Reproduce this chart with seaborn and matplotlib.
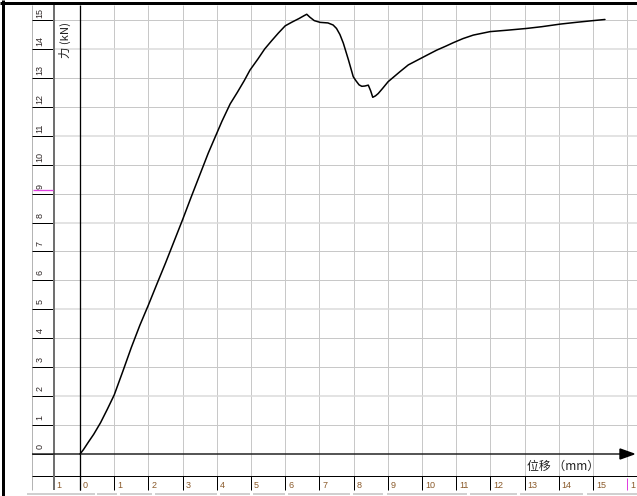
import matplotlib
matplotlib.use('Agg')
import matplotlib.pyplot as plt
from matplotlib.patches import Polygon
import seaborn as sns
import numpy as np
import pandas as pd

# curve: displacement (mm) vs force (kN)
disp = [0, 0.1, 0.25, 0.4, 0.6, 0.8, 1.0, 1.25, 1.5, 1.75, 2.0, 2.25, 2.5,
        2.75, 3.0, 3.25, 3.5, 3.75, 3.95, 4.15, 4.39, 4.6, 4.8, 4.97, 5.2,
        5.4, 5.6, 5.8, 6.0, 6.2, 6.4, 6.55, 6.63, 6.72, 6.85, 7.02, 7.25,
        7.4, 7.5, 7.6, 7.7, 7.85, 7.99, 8.07, 8.16, 8.24, 8.33, 8.43, 8.5,
        8.56, 8.64, 8.72, 8.85, 9.01, 9.2, 9.36, 9.6, 9.94, 10.2, 10.43,
        10.7, 10.92, 11.2, 11.5, 11.99, 12.5, 13.06, 13.5, 14.04, 14.5,
        15.0, 15.35]
force = [0, 0.15, 0.42, 0.68, 1.08, 1.55, 2.04, 2.85, 3.68, 4.45, 5.15, 5.88, 6.6,
         7.35, 8.1, 8.88, 9.64, 10.4, 10.95, 11.5, 12.1, 12.5, 12.9, 13.27, 13.65,
         14.0, 14.28, 14.55, 14.8, 14.93, 15.05, 15.15, 15.2, 15.1, 14.98, 14.92, 14.9,
         14.83, 14.71, 14.5, 14.2, 13.62, 13.04, 12.9, 12.76, 12.71, 12.72, 12.75, 12.55,
         12.33, 12.38, 12.46, 12.64, 12.87, 13.06, 13.22, 13.45, 13.66, 13.82, 13.96,
         14.1, 14.22, 14.36, 14.48, 14.6, 14.65, 14.71, 14.77, 14.86, 14.92,
         14.98, 15.02]

x_ticks = list(range(0, 17))
y_ticks = list(range(0, 16))
x_tick_labels = [str(v) for v in x_ticks[:-1]] + ['1']
y_tick_labels = [str(v) for v in y_ticks]
x_title = '位移 （mm）'
y_title = '力 (kN)'

# screen geometry of the original window (pixels)
W, H = 637, 496
PX_MM, PX_KN = 34.2, 28.93
X0_PX, Y0_PX = 80, 454


def px_x(p):
    return (p - X0_PX) / PX_MM


def px_y(p):
    return (Y0_PX - p) / PX_KN


sns.set_theme(style='white')
plt.rcParams['font.family'] = ['Noto Sans CJK SC', 'DejaVu Sans']

fig = plt.figure(figsize=(W / 100, H / 100), dpi=100)
ax = fig.add_axes([0, 0, 1, 1])
ax.set_xlim(px_x(0), px_x(W))
ax.set_ylim(px_y(H), px_y(0))
ax.axis('off')

lw1 = 0.72  # one screen pixel

# grid
ax.vlines(x_ticks[1:], px_y(476), px_y(5), color='#c8c8c8', lw=lw1, zorder=1)
for v in y_ticks[1:]:
    c, w = ('#dadada', 1.5 * lw1) if v % 3 == 2 else ('#c8c8c8', lw1)
    ax.hlines(v, px_x(54), px_x(W), color=c, lw=w, zorder=1)

# left ruler
ax.vlines(px_x(32), px_y(490), px_y(5), color='#b4b4b4', lw=lw1, zorder=2)
ax.vlines(px_x(54), px_y(490), px_y(5), color='#707070', lw=2 * lw1, zorder=3)
ax.hlines(y_ticks, px_x(32), px_x(54), color='black', lw=lw1, zorder=2)
for v, lab in zip(y_ticks, y_tick_labels):
    ax.text(px_x(40), v + 7.5 / PX_KN, lab, rotation=90, ha='center', va='center',
            fontsize=6.5, color='#302828', family=['Liberation Sans'])
ax.hlines(9.12, px_x(33), px_x(53), color='#e040e0', lw=1.3 * lw1, zorder=3)

# bottom ruler
ax.hlines(px_y(476), px_x(32), px_x(W), color='black', lw=lw1, zorder=2)
ax.vlines(x_ticks[:-1], px_y(490), px_y(476), color='black', lw=lw1, zorder=2)
ax.vlines(x_ticks[-1], px_y(490), px_y(478), color='#e040e0', lw=lw1, zorder=2)
ax.text(px_x(56), px_y(486), '1', ha='left', va='center', fontsize=6.5,
        color='#8a5a2a', family=['Liberation Sans'])
for v, lab in zip(x_ticks, x_tick_labels):
    ax.text(v + 3 / PX_MM, px_y(486), lab, ha='left', va='center', fontsize=6.5,
            color='#8a5a2a', family=['Liberation Sans'])

# status strip at the bottom
panels = [(27, 95), (97, 117), (120, 152), (155, 217), (220, 250), (253, 285),
          (288, 350), (353, 383), (387, 467), (470, 517), (520, 583), (587, 637)]
for a, b in panels:
    ax.hlines(px_y(493.5), px_x(a), px_x(b), color='#d0d0d0', lw=2 * lw1, zorder=2)

# axes with arrow
ax.vlines(0, px_y(490), px_y(5), color='black', lw=1.3 * lw1, zorder=4)
ax.hlines(0, px_x(32), px_x(621), color='#202020', lw=1.5 * lw1, zorder=4)
ax.add_patch(Polygon([(px_x(620), px_y(449)), (px_x(620), px_y(459)),
                      (px_x(634), 0)], closed=True, color='black', zorder=4))

# curve
sns.lineplot(x=disp, y=force, sort=False, estimator=None, color='black',
             lw=1.1, ax=ax, zorder=5)

ax.text(px_x(563), px_y(466), x_title, ha='center', va='center', fontsize=8.6,
        color='#202020')
ax.text(px_x(65), px_y(40), y_title, rotation=90, ha='center', va='center',
        fontsize=8.2, color='#202020')

# window frame
ax.hlines(px_y(3.5), px_x(0), px_x(W), color='black', lw=3 * lw1, zorder=6)
ax.vlines(px_x(2.5), px_y(H), px_y(0), color='black', lw=3 * lw1, zorder=6)

fig.savefig('out.png', dpi=100)
